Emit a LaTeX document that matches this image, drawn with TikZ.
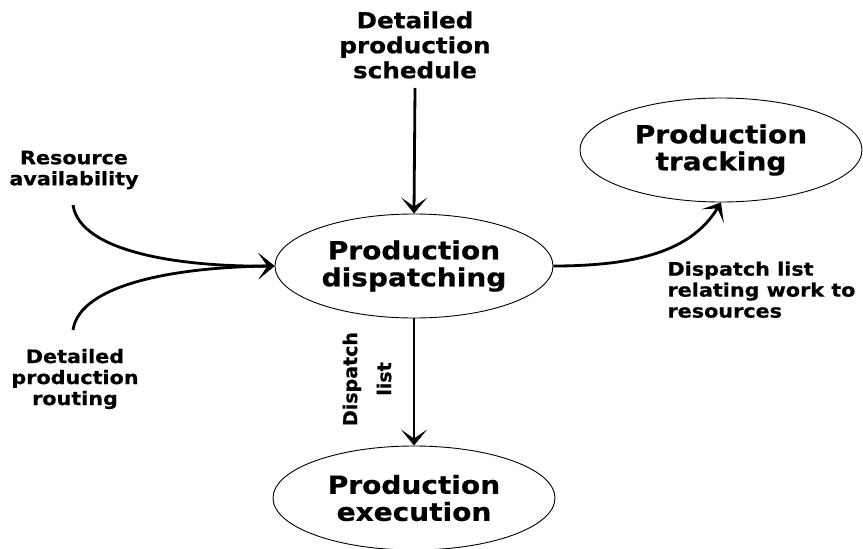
\documentclass[tikz,border=0pt]{standalone}
\usepackage{fontspec}
\setmainfont{DejaVu Sans}
\newfontfamily\labelfont[FakeStretch=1.12,FakeBold=0.6]{DejaVu Sans Bold}
\newfontfamily\sidefont[FakeBold=0.6]{DejaVu Sans Bold}
\usetikzlibrary{shapes.geometric,arrows.meta}
\begin{document}
\begin{tikzpicture}[x=1pt,y=-1pt,
  proc/.style={draw,ellipse,line width=0.9pt,inner sep=0pt,
    minimum width=#1,minimum height=104pt,align=center,
    font=\labelfont\fontsize{25}{27}\selectfont},
  proc/.default=280pt,
  lbl/.style={align=center,font=\labelfont\fontsize{18.5}{21}\selectfont},
  toplbl/.style={align=center,font=\labelfont\fontsize{22}{25}\selectfont},
  flow/.style={line width=2.8pt,-{Stealth[length=16pt,width=26pt,inset=9pt]}},
]
\useasboundingbox (0,0) rectangle (863,549);

% processes
\node[proc=278pt] (disp) at (414,266) {Production\\dispatching};
\node[proc=282pt] (track) at (721,150) {Production\\tracking};
\node[proc=282pt] (exec) at (414,498) {Production\\execution};

% inputs
\node[toplbl] (sched) at (415,45) {Detailed\\production\\schedule};
\node[lbl] (res) at (74,170) {Resource\\availability};
\node[lbl] (rout) at (75,379) {Detailed\\production\\routing};
\coordinate (resend) at (73,205);
\coordinate (routend) at (73,330);
\coordinate (schedend) at (415,88);

% connectors
\draw[flow] (schedend) -- (disp.north);
\draw[flow] (resend) .. controls (80,252) and (180,267) .. (disp.west);
\draw[flow] (routend) .. controls (80,283) and (180,267) .. (disp.west);
\draw[flow] (disp.east) .. controls (650,266) and (695,245) .. (track.south);
\draw[flow] (disp.south) -- (exec.north);

% connector labels
\node[lbl,anchor=north west,align=left] (dl) at (664,258)
  {Dispatch list\\relating work to\\resources};
\node[align=center,rotate=90,inner sep=0pt,
  font=\sidefont\fontsize{19}{34}\selectfont] (dlist) at (367,379) {Dispatch\\list};
\end{tikzpicture}
\end{document}
